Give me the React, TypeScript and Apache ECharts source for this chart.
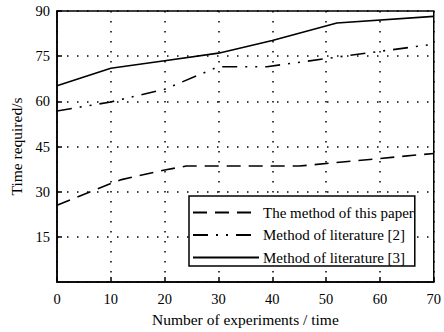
import React, { useEffect, useRef } from "react";
import * as echarts from "echarts";

const seriesNames = [
  "The method of this paper",
  "Method of literature [2]",
  "Method of literature [3]",
];

const thisPaper: [number, number][] = [
  [0, 25.5], [10, 32.7], [12, 34], [20, 37.2], [24, 38.5], [45, 38.5], [70, 42.7],
];
const literature2: [number, number][] = [
  [0, 56.8], [10, 59.8], [20, 64], [30, 71.5], [39, 71.5], [50, 74.2], [60, 76.6], [70, 79],
];
const literature3: [number, number][] = [
  [0, 65.2], [10, 71], [20, 73.5], [30, 76], [40, 80.2], [52, 86], [70, 88.2],
];

const xTicks = { min: 0, max: 70, interval: 10 };
const yTicks = { min: 0, max: 90, interval: 15 };

const FONT = "'Liberation Serif', 'Times New Roman', serif";

export default function App() {
  const ref = useRef<HTMLDivElement>(null);
  useEffect(() => {
    if (!ref.current) return;
    const chart = echarts.init(ref.current, undefined, { renderer: "svg" });
    const dotted = { color: "#000", width: 1.5, type: [1.5, 8.5] as number[] };
    chart.setOption({
      animation: false,
      backgroundColor: "#fff",
      textStyle: { fontFamily: FONT, color: "#000" },
      grid: {
        left: 55, right: 10, top: 11, bottom: 49,
        show: true, borderColor: "#000", borderWidth: 1.5,
      },
      legend: {
        orient: "vertical",
        left: 189, top: 196,
        data: seriesNames,
        itemWidth: 66, itemHeight: 14, itemGap: 7.5,
        padding: [9, 1, 1, 3],
        backgroundColor: "#fff",
        borderColor: "#000", borderWidth: 1.5,
        itemStyle: { opacity: 0 },
        textStyle: { fontFamily: FONT, fontSize: 15, color: "#000", padding: [0, 0, 0, -1] },
        selectedMode: false,
      },
      xAxis: {
        type: "value",
        min: xTicks.min, max: xTicks.max, interval: xTicks.interval,
        name: "Number of experiments / time",
        nameLocation: "middle", nameGap: 29,
        nameTextStyle: { fontFamily: FONT, fontSize: 15.5, color: "#000" },
        axisLine: { show: true, lineStyle: { color: "#000", width: 1.5 } },
        axisTick: { show: true, inside: true, length: 5, lineStyle: { color: "#000", width: 1.5 } },
        axisLabel: { fontFamily: FONT, fontSize: 14.5, color: "#000", margin: 9 },
        splitLine: { show: true, lineStyle: dotted },
      },
      yAxis: {
        type: "value",
        min: yTicks.min, max: yTicks.max, interval: yTicks.interval,
        name: "Time required/s",
        nameLocation: "middle", nameGap: 33,
        nameTextStyle: { fontFamily: FONT, fontSize: 15.5, color: "#000" },
        axisLine: { show: true, lineStyle: { color: "#000", width: 1.5 } },
        axisTick: { show: true, inside: true, length: 5, lineStyle: { color: "#000", width: 1.5 } },
        axisLabel: { fontFamily: FONT, fontSize: 14.5, color: "#000", margin: 7, showMinLabel: false },
        splitLine: { show: true, lineStyle: dotted },
      },
      series: [
        {
          name: seriesNames[0], type: "line", data: thisPaper, symbol: "none",
          lineStyle: { color: "#000", width: 1.6, type: [14, 8] },
          itemStyle: { color: "#000" },
        },
        {
          name: seriesNames[1], type: "line", data: literature2, symbol: "none",
          lineStyle: { color: "#000", width: 1.6, type: [15, 8, 2, 8, 2, 8] },
          itemStyle: { color: "#000" },
        },
        {
          name: seriesNames[2], type: "line", data: literature3, symbol: "none",
          lineStyle: { color: "#000", width: 1.6, type: "solid" },
          itemStyle: { color: "#000" },
        },
      ],
    });
    return () => chart.dispose();
  }, []);
  return <div ref={ref} style={{ width: 444, height: 332, position: "absolute", left: 0, top: 0 }} />;
}
